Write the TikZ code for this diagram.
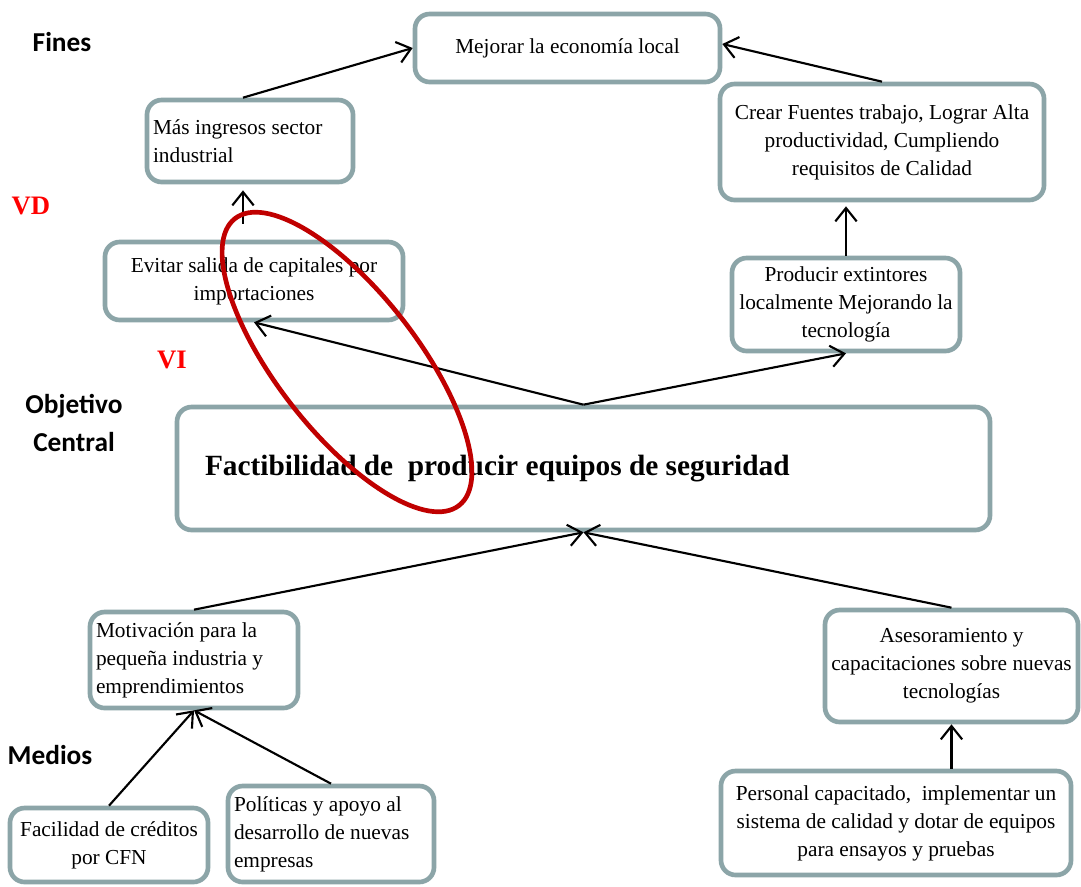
\documentclass[tikz,border=0pt]{standalone}
\usepackage{fontspec}
\setmainfont{Liberation Serif}
\newfontfamily\calibri{Carlito}
\usetikzlibrary{arrows.meta}
\definecolor{cajagris}{RGB}{140,165,168}
\definecolor{elipserojo}{RGB}{192,0,0}
\definecolor{etiquetarojo}{RGB}{255,0,0}
\newlength\pxl
\setlength\pxl{0.75pt}

\begin{document}
\begin{tikzpicture}[x=0.75pt, y=-0.75pt,
    caja/.style={draw=cajagris, line width=3.5pt, rounded corners=11pt, fill=white,
        inner xsep=6\pxl, inner ysep=0pt, font=\fontsize{16}{21}\selectfont},
    flecha/.style={-{Straight Barb[length=10pt,width=16pt]}, line width=1.6pt},
    nivel/.style={font=\calibri\bfseries\fontsize{20.5}{28}\selectfont, align=center},
    marca/.style={etiquetarojo, font=\bfseries\fontsize{20}{24}\selectfont}]
    \useasboundingbox (0,0) rectangle (1081,886);

    % Fines
    \node[caja, minimum width=305\pxl, minimum height=68\pxl, align=center] (mejorar) at (567.5,48) {Mejorar la economía local};
    \node[caja, text width=194\pxl, minimum height=82\pxl, align=flush left] (mas) at (250,141) {Más ingresos sector\\industrial};
    \node[caja, minimum width=324\pxl, minimum height=116\pxl, align=center] (crear) at (882,142) {Crear Fuentes trabajo, Lograr Alta\\productividad, Cumpliendo\\requisitos de Calidad};
    \node[caja, minimum width=298\pxl, minimum height=78\pxl, align=center] (evitar) at (254,281) {Evitar salida de capitales por\\importaciones};
    \node[caja, minimum width=228\pxl, minimum height=93\pxl, align=center] (producir) at (846,304.5) {Producir extintores\\localmente Mejorando la\\tecnología};

    % Objetivo central
    \node[caja, inner xsep=28\pxl, text width=757\pxl, minimum height=123\pxl, align=flush left,
        font=\bfseries\fontsize{22}{26}\selectfont] (central) at (583.5,468.5) {Factibilidad de\ \ producir equipos de seguridad};

    % Medios
    \node[caja, text width=196\pxl, minimum height=96\pxl, align=flush left] (motivacion) at (194,660) {Motivación para la\\pequeña industria y\\emprendimientos};
    \node[caja, minimum width=253\pxl, minimum height=112\pxl, align=center] (asesoria) at (951.5,666) {Asesoramiento y\\capacitaciones sobre nuevas\\tecnologías};
    \node[caja, minimum width=198\pxl, minimum height=74\pxl, align=center] (creditos) at (109,845) {Facilidad de créditos\\por CFN};
    \node[caja, text width=194\pxl, minimum height=96\pxl, align=flush left] (politicas) at (331,834) {Políticas y apoyo al\\desarrollo de nuevas\\empresas};
    \node[caja, minimum width=350\pxl, minimum height=104\pxl, align=center] (personal) at (896,823) {Personal capacitado,\ \ implementar un\\sistema de calidad y dotar de equipos\\para ensayos y pruebas};

    % Etiquetas
    \node[nivel] (fines) at (62,42) {Fines};
    \node[nivel] (objetivo) at (74,423) {Objetivo\\Central};
    \node[nivel] (medios) at (50,755) {Medios};
    \node[marca] (vd) at (31,206) {VD};
    \node[marca] (vi) at (172,360) {VI};

    % Flechas
    \draw[flecha] ([xshift=-7\pxl]mas.north) -- (mejorar.west);
    \draw[flecha] (crear.north) -- ([yshift=4\pxl]mejorar.east);
    \draw[flecha] ([xshift=-11\pxl,yshift=16\pxl]evitar.north) -- ([xshift=-7\pxl,yshift=-6\pxl]mas.south);
    \draw[flecha] (producir.north) -- ([xshift=-36\pxl,yshift=-4\pxl]crear.south);
    \draw[flecha] (central.north) -- (evitar.south);
    \draw[flecha] (central.north) -- (producir.south);
    \draw[flecha] (motivacion.north) -- (central.south);
    \draw[flecha] (asesoria.north) -- (central.south);
    \draw[flecha] (creditos.north) -- (motivacion.south);
    \draw[flecha] (politicas.north) -- (motivacion.south);
    \draw[flecha] (personal.north -| asesoria.south) -- (asesoria.south);

    % Elipse VI
    \draw[elipserojo, line width=3.5pt, rotate around={-52:(347,362)}] (347,362) ellipse [x radius=136.5pt, y radius=52.5pt];
\end{tikzpicture}
\end{document}
